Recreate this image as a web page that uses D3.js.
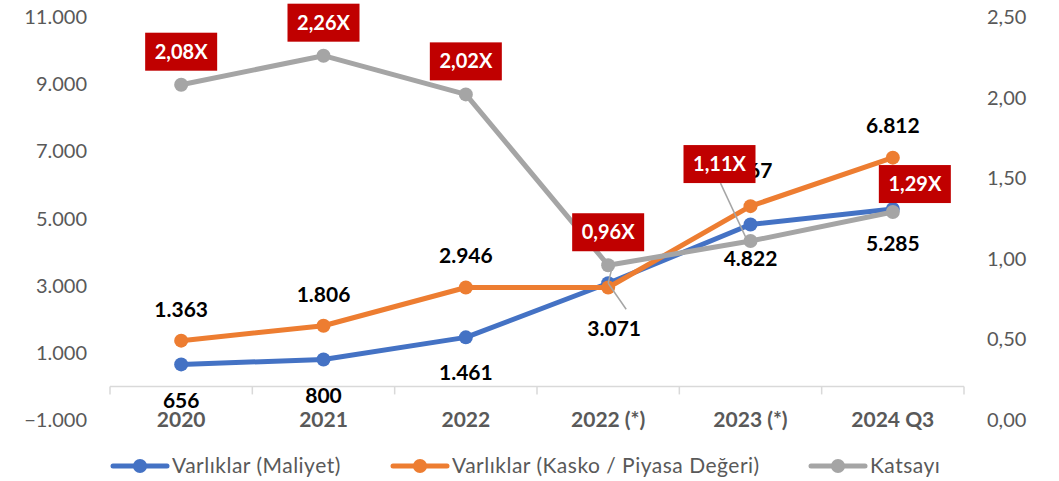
<!DOCTYPE html>
<html>
<head>
<meta charset="utf-8">
<script src="https://cdn.jsdelivr.net/npm/d3@7"></script>
<style>
  body { margin: 0; background: #fff; }
  svg { font-family: Lato, "Open Sans", sans-serif; }
</style>
</head>
<body>
<div id="chart"></div>
<script>
// data
const categories = ["2020", "2021", "2022", "2022 (*)", "2023 (*)", "2024 Q3"];
const maliyet = [656, 800, 1461, 3071, 4822, 5285];
const kasko = [1363, 1806, 2946, 2946, 5367, 6812];
const katsayi = [2.08, 2.26, 2.02, 0.96, 1.11, 1.29];
const leftTicks = [-1000, 1000, 3000, 5000, 7000, 9000, 11000];
const rightTicks = [0, 0.5, 1, 1.5, 2, 2.5];
const seriesNames = ["Varlıklar (Maliyet)", "Varlıklar (Kasko / Piyasa Değeri)", "Katsayı"];

const width = 1059;
const height = 481;
const colors = { blue: "#4472C4", orange: "#ED7D31", gray: "#A5A5A5", red: "#C00000", text: "#595959" };

const tr = d3.formatLocale({ decimal: ",", thousands: ".", grouping: [3], currency: ["", ""] });
const fmtInt = tr.format(",.0f");
const fmt2 = tr.format(",.2f");

const svg = d3.select("#chart").append("svg")
  .attr("width", width)
  .attr("height", height);

const x = d3.scaleBand().domain(categories).range([110, 964]);
const yL = d3.scaleLinear().domain([-1000, 11000]).range([420, 17]);
const yR = d3.scaleLinear().domain([0, 2.5]).range([420, 17]);
const cx = (i) => x(categories[i]) + x.bandwidth() / 2;

// left axis labels
svg.append("g").selectAll("text")
  .data(leftTicks)
  .join("text")
  .attr("x", 87)
  .attr("y", (d) => yL(d))
  .attr("dy", "0.35em")
  .attr("text-anchor", "end")
  .attr("font-size", 20)
  .attr("fill", colors.text)
  .text((d) => fmtInt(d));

// right axis labels
svg.append("g").selectAll("text")
  .data(rightTicks)
  .join("text")
  .attr("x", 987)
  .attr("y", (d) => yR(d))
  .attr("dy", "0.35em")
  .attr("font-size", 20)
  .attr("fill", colors.text)
  .text((d) => fmt2(d));

// category axis at zero
const y0 = yL(0);
const xAxis = svg.append("g").attr("transform", `translate(0,${y0})`);
xAxis.append("line")
  .attr("x1", 110).attr("x2", 964)
  .attr("stroke", "#D9D9D9").attr("stroke-width", 1.5);
xAxis.selectAll("line.tick")
  .data(categories.map((c) => x(c)).concat([964]))
  .join("line")
  .attr("class", "tick")
  .attr("x1", (d) => d).attr("x2", (d) => d)
  .attr("y1", 0).attr("y2", 8)
  .attr("stroke", "#D9D9D9").attr("stroke-width", 1.5);
svg.append("g").selectAll("text")
  .data(categories)
  .join("text")
  .attr("x", (d, i) => cx(i))
  .attr("y", 420)
  .attr("dy", "0.35em")
  .attr("text-anchor", "middle")
  .attr("font-size", 21)
  .attr("font-weight", "bold")
  .attr("fill", colors.text)
  .text((d) => d);

// lines
function drawSeries(values, y, color) {
  const line = d3.line().x((d, i) => cx(i)).y((d) => y(d));
  svg.append("path")
    .datum(values)
    .attr("d", line)
    .attr("fill", "none")
    .attr("stroke", color)
    .attr("stroke-width", 5)
    .attr("stroke-linejoin", "round");
  svg.append("g").selectAll("circle")
    .data(values)
    .join("circle")
    .attr("cx", (d, i) => cx(i))
    .attr("cy", (d) => y(d))
    .attr("r", 7)
    .attr("fill", color);
}
drawSeries(maliyet, yL, colors.blue);
drawSeries(kasko, yL, colors.orange);
drawSeries(katsayi, yR, colors.gray);

// label placement offsets (dx, dy from point)
const blueOffsets = [[0, 36], [0, 36], [0, 35], [6, 45], [0, 34], [0, 35]];
const orangeOffsets = [[0, -31], [0, -31], [0, -32], [4, -50], [-5, -36], [0, -32]];
const grayOffsets = [[0, -33], [0, -33], [0, -33], [0, -33], [-31, -77], [22, -28]];

// leader lines
function leader(x1, y1, x2, y2) {
  svg.append("line")
    .attr("x1", x1).attr("y1", y1).attr("x2", x2).attr("y2", y2)
    .attr("stroke", colors.gray).attr("stroke-width", 1.5);
}
leader(cx(3), yL(maliyet[3]), cx(3) + 18, yL(maliyet[3]) + 26);
leader(cx(3), yL(maliyet[3]), cx(3) + 4, yR(katsayi[3]) + 2);
leader(cx(4) - 3, yR(katsayi[4]), cx(4) - 30, yR(katsayi[4]) - 58);

function valueLabels(values, y, offsets) {
  svg.append("g").selectAll("text")
    .data(values)
    .join("text")
    .attr("x", (d, i) => cx(i) + offsets[i][0])
    .attr("y", (d, i) => y(d) + offsets[i][1])
    .attr("dy", "0.35em")
    .attr("text-anchor", "middle")
    .attr("font-size", 21)
    .attr("font-weight", "bold")
    .attr("fill", "#000")
    .text((d) => fmtInt(d));
}
valueLabels(maliyet, yL, blueOffsets);
valueLabels(kasko, yL, orangeOffsets);

// ratio boxes
const boxes = svg.append("g").selectAll("g")
  .data(katsayi)
  .join("g")
  .attr("transform", (d, i) => `translate(${cx(i) + grayOffsets[i][0]},${yR(d) + grayOffsets[i][1]})`);
boxes.append("rect")
  .attr("x", -36).attr("y", -19)
  .attr("width", 72).attr("height", 38)
  .attr("fill", colors.red);
boxes.append("text")
  .attr("text-anchor", "middle")
  .attr("dy", "0.35em")
  .attr("font-size", 20)
  .attr("font-weight", "bold")
  .attr("fill", "#fff")
  .text((d) => fmt2(d) + "X");

// legend
const legendItems = [
  { name: seriesNames[0], color: colors.blue, x: 113 },
  { name: seriesNames[1], color: colors.orange, x: 393 },
  { name: seriesNames[2], color: colors.gray, x: 811 },
];
const lg = svg.append("g").selectAll("g")
  .data(legendItems)
  .join("g")
  .attr("transform", (d) => `translate(${d.x},466)`);
lg.append("line")
  .attr("x1", 0).attr("x2", 54)
  .attr("stroke", (d) => d.color)
  .attr("stroke-width", 5)
  .attr("stroke-linecap", "round");
lg.append("circle")
  .attr("cx", 27).attr("r", 7)
  .attr("fill", (d) => d.color);
lg.append("text")
  .attr("x", 59)
  .attr("dy", "0.35em")
  .attr("font-size", 21)
  .attr("letter-spacing", 0.5)
  .attr("fill", colors.text)
  .text((d) => d.name);
</script>
</body>
</html>
